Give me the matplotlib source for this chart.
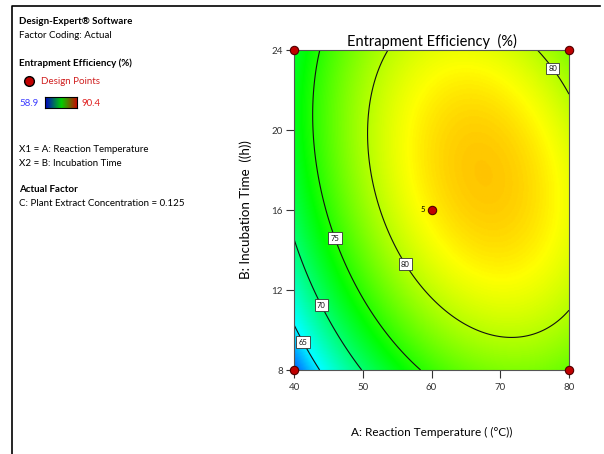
import numpy as np
import matplotlib as mpl
mpl.use('Agg')
import matplotlib.pyplot as plt
from matplotlib.colors import LinearSegmentedColormap
from matplotlib.lines import Line2D

# quadratic model in coded units: a=(T-60)/20, b=(t-16)/8
# terms: 1, a, b, ab, a^2, b^2
model_terms = ['Intercept', 'A', 'B', 'AB', 'A^2', 'B^2']
model_coef = [82.91, 5.41, 2.94, -2.52, -6.37, -4.30]

temp_range = [40, 80]
time_range = [8, 24]
temp_ticks = [40, 50, 60, 70, 80]
time_ticks = [8, 12, 16, 20, 24]
levels = [65, 70, 75, 80]
label_spots = [(41.6, 9.45), (44.1, 11.27), (45.96, 14.6), (56.0, 13.25), (77.6, 23.07)]
design_T = [40, 40, 80, 80, 60]
design_t = [8, 24, 8, 24, 16]
center_reps = '5'
cmin, cmax = 58.9, 90.4

plt.rcParams['font.family'] = ['Lato', 'DejaVu Sans']

de_cmap = LinearSegmentedColormap.from_list(
    'de', [(0, '#0000ff'), (0.2, '#00ffff'), (0.47, '#00ff00'),
           (0.75, '#ffff00'), (1, '#ff0000')])
key_cmap = LinearSegmentedColormap.from_list('key', ['#0000c8', '#00d000', '#d00000'])

fig = plt.figure(figsize=(6.04, 4.54), dpi=100)
ax = fig.add_axes([294/604, 1-370/454, 275/604, 320/454])

tt = np.linspace(temp_range[0], temp_range[1], 300)
hh = np.linspace(time_range[0], time_range[1], 300)
TT, HH = np.meshgrid(tt, hh)
a = (TT - 60) / 20.0
b = (HH - 16) / 8.0
c = model_coef
Z = c[0] + c[1]*a + c[2]*b + c[3]*a*b + c[4]*a**2 + c[5]*b**2

ax.imshow(Z, extent=temp_range + time_range, origin='lower', aspect='auto',
          cmap=de_cmap, vmin=cmin, vmax=cmax, interpolation='bilinear')
cs = ax.contour(TT, HH, Z, levels=levels, colors='#111111', linewidths=0.8)
texts = ax.clabel(cs, manual=label_spots, inline=False, fontsize=5.5, fmt='%d')
for t in texts:
    t.set_rotation(0)
    t.set_bbox(dict(boxstyle='square,pad=0.3', fc='white', ec='#333333', lw=0.6))

ax.plot(design_T, design_t, 'o', ms=6, mfc='#c00000', mec='#500000', mew=0.8,
        clip_on=False, zorder=5)
ax.annotate(center_reps, (60, 16), xytext=(-6, 0), textcoords='offset points',
            fontsize=5.5, ha='center', va='center')

ax.set_xlim(temp_range)
ax.set_ylim(time_range)
ax.set_xticks(temp_ticks)
ax.set_yticks(time_ticks)
ax.tick_params(axis='both', labelsize=7, length=6, width=0.8, colors='#333333',
               direction='out')
ax.tick_params(axis='x', pad=3)
ax.tick_params(axis='y', pad=2)
for s in ax.spines.values():
    s.set_color('#555555')
ax.set_title('Entrapment Efficiency  (%)', fontsize=10.5, pad=3)
ax.set_xlabel('A: Reaction Temperature ( (°C))', fontsize=8.5)
ax.set_ylabel('B: Incubation Time  ((h))', fontsize=9.6)
ax.xaxis.set_label_coords(0.5, -0.178)
ax.yaxis.set_label_coords(-0.153, 0.5)

fig.text(19/604, 1-22/454, 'Design-Expert® Software', fontsize=7, weight='bold', va='center')
fig.text(19/604, 1-35/454, 'Factor Coding: Actual', fontsize=7, va='center')
fig.text(19/604, 1-63/454, 'Entrapment Efficiency (%)', fontsize=7, weight='bold', va='center')
fig.add_artist(Line2D([29/604], [1-81/454], marker='o', ms=7, mfc='#c00000', mec='black', mew=1))
fig.text(41/604, 1-81/454, 'Design Points', fontsize=7, color='#d02020', va='center')
fig.text(19/604, 1-103/454, '58.9', fontsize=7, color='#4040ff', va='center')
cax = fig.add_axes([45/604, 1-108/454, 32/604, 11/454])
cax.imshow(np.linspace(0, 1, 64)[None, :], cmap=key_cmap, aspect='auto')
cax.set_xticks([])
cax.set_yticks([])
fig.text(82/604, 1-103/454, '90.4', fontsize=7, color='#e02020', va='center')
fig.text(19/604, 1-149/454, 'X1 = A: Reaction Temperature', fontsize=7, va='center')
fig.text(19/604, 1-163/454, 'X2 = B: Incubation Time', fontsize=7, va='center')
fig.text(19/604, 1-190/454, 'Actual Factor', fontsize=7, weight='bold', va='center')
fig.text(19/604, 1-204/454, 'C: Plant Extract Concentration = 0.125', fontsize=7, va='center')

fig.add_artist(Line2D([12/604, 12/604, 600/604], [0, 1-6/454, 1-6/454], color='black', lw=1.2))

fig.savefig('out.png', dpi=100)
